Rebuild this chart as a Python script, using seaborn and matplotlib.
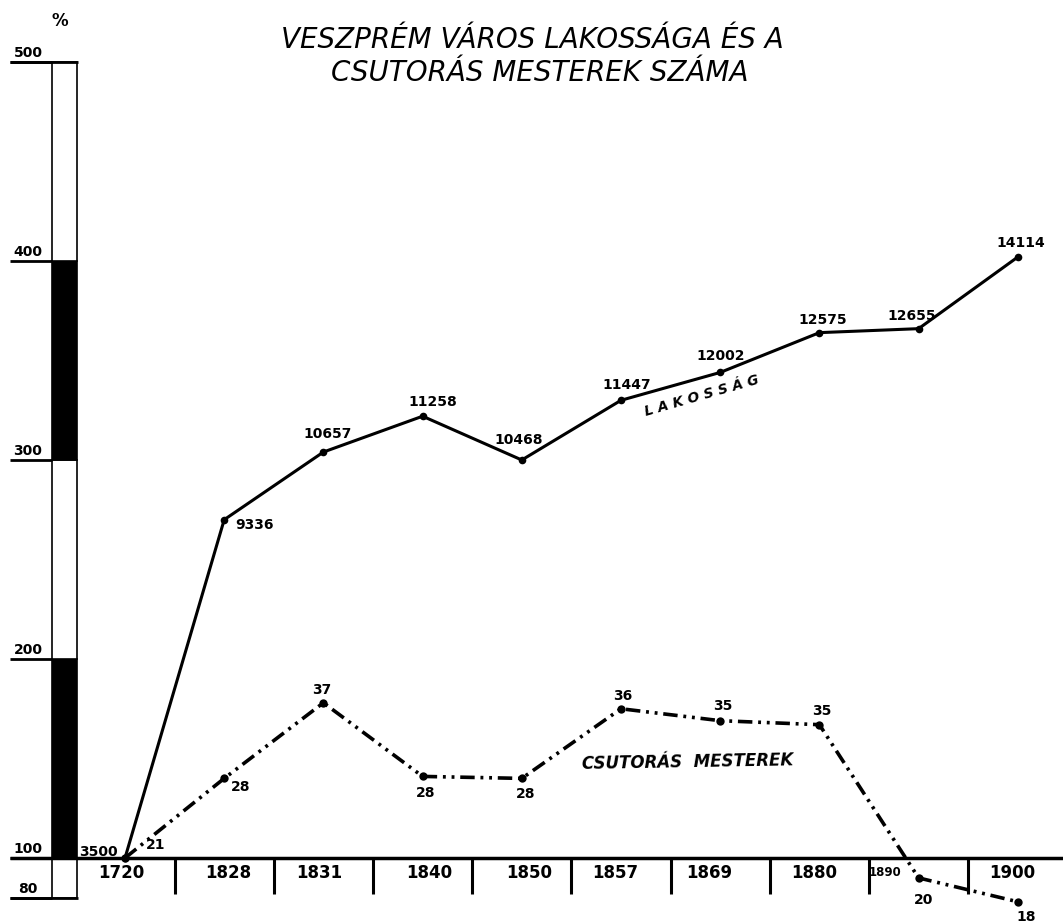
"""
Veszprém város lakossága és a csutorás mesterek száma (1720-1900)
Redrawn from a hand-lettered percentage chart
"""

import numpy as np
import pandas as pd
import matplotlib.pyplot as plt
import seaborn as sns

# ---- data ----
years = ['1720', '1828', '1831', '1840', '1850', '1857', '1869', '1880', '1890', '1900']
population = [3500, 9336, 10657, 11258, 10468, 11447, 12002, 12575, 12655, 14114]
population_pct = [100, 270, 304, 322, 300, 330, 344, 364, 366, 402]
masters = [21, 28, 37, 28, 28, 36, 35, 35, 20, 18]
masters_pct = [100, 140, 178, 141, 140, 175, 169, 167, 90, 78]
scale_ticks = [80, 100, 200, 300, 400, 500]
scale_black = [(100, 200), (300, 400)]

# ---- layout (pixels of the 1063x924 sheet) ----
W, H = 1063, 924
X0, DX = 125, 99.2      # pixel x of first year, pixels per year step
Y100, DY = 858, 1.99    # pixel y of 100 %, pixels per percent


def px(x):
    return (x - X0) / DX


def py(y):
    return 100 + (Y100 - y) / DY


# label offsets in pixels from their point
pop_offsets = [(-27, 6), (30, -5), (4, 18), (10, 14), (-3, 20),
               (6, 15), (0, 16), (3, 13), (-7, 13), (3, 14)]
mst_offsets = [(31, 13), (16, -9), (-2, 13), (3, -17), (4, -16),
               (2, 13), (3, 15), (2, 14), (5, -22), (8, -15)]
year_offsets = [-4, 4, -4, 7, 7, -6, -11, -5, -34, -6]

sns.set_style('white')
plt.rcParams['font.family'] = ['DejaVu Sans']
plt.rcParams['text.color'] = 'black'

df = pd.DataFrame({'pos': np.arange(len(years)),
                   'pop': population_pct,
                   'mst': masters_pct})

fig = plt.figure(figsize=(W / 100, H / 100), dpi=100)
ax = fig.add_axes([0, 0, 1, 1])

# population line (solid) and masters line (dash-dot-dot)
sns.lineplot(data=df, x='pos', y='pop', ax=ax, color='black', linewidth=2.2,
             marker='o', markersize=5.5, markeredgewidth=0)
sns.lineplot(data=df, x='pos', y='mst', ax=ax, color='black', linewidth=2.6,
             linestyle=(0, (4, 1.6, 0.8, 1.6, 0.8, 1.6)),
             marker='o', markersize=6, markeredgewidth=0)

# value labels
for i, (v, lab) in enumerate(zip(population_pct, population)):
    ax.annotate(str(lab), (i, v), xytext=pop_offsets[i], textcoords='offset pixels',
                ha='center', va='center', fontsize=10, fontweight='bold')
for i, (v, lab) in enumerate(zip(masters_pct, masters)):
    ax.annotate(str(lab), (i, v), xytext=mst_offsets[i], textcoords='offset pixels',
                ha='center', va='center', fontsize=10, fontweight='bold')

# series names
ax.text(px(702), py(396), 'L A K O S S Á G', rotation=16, ha='center', va='center',
        fontsize=10, fontweight='bold', style='italic')
ax.text(px(688), py(762), 'CSUTORÁS  MESTEREK', rotation=1, ha='center', va='center',
        fontsize=12, fontweight='bold', style='italic')

# baseline, year cells and year labels
ax.hlines(100, px(10), px(W), color='black', linewidth=2.5)
ax.vlines(np.arange(len(years) - 1) + 0.5, 82, 100, color='black', linewidth=2.2)
for i, yr in enumerate(years):
    ax.annotate(yr, (i, py(873)), xytext=(year_offsets[i], 0), textcoords='offset pixels',
                ha='center', va='center', fontweight='bold',
                fontsize=8.5 if yr == '1890' else 12)

# percentage scale bar on the left
bar_w = (77 - 52) / DX
for lo, hi in zip(scale_ticks[:-1], scale_ticks[1:]):
    ax.bar(px(64.5), hi - lo, bottom=lo, width=bar_w,
           color='black' if (lo, hi) in scale_black else 'white',
           edgecolor='black', linewidth=1.2)
ax.hlines(scale_ticks, px(10), px(52), color='black', linewidth=2)
ax.hlines([80, 500], px(10), px(78), color='black', linewidth=2)
for v in scale_ticks:
    ax.annotate(str(v), (px(28), v), xytext=(0, 2), textcoords='offset pixels',
                ha='center', va='bottom', fontsize=10, fontweight='bold')
ax.text(px(60), py(21), '%', ha='center', va='center', fontsize=12, fontweight='bold')

# title
ax.text(px(532), py(40), 'VESZPRÉM VÁROS LAKOSSÁGA ÉS A', ha='center', va='center',
        fontsize=20, style='italic')
ax.text(px(540), py(73), 'CSUTORÁS MESTEREK SZÁMA', ha='center', va='center',
        fontsize=20, style='italic')

ax.set_xlim(px(0), px(W))
ax.set_ylim(py(H), py(0))
ax.axis('off')

fig.savefig('out.png', dpi=100, facecolor='white')
